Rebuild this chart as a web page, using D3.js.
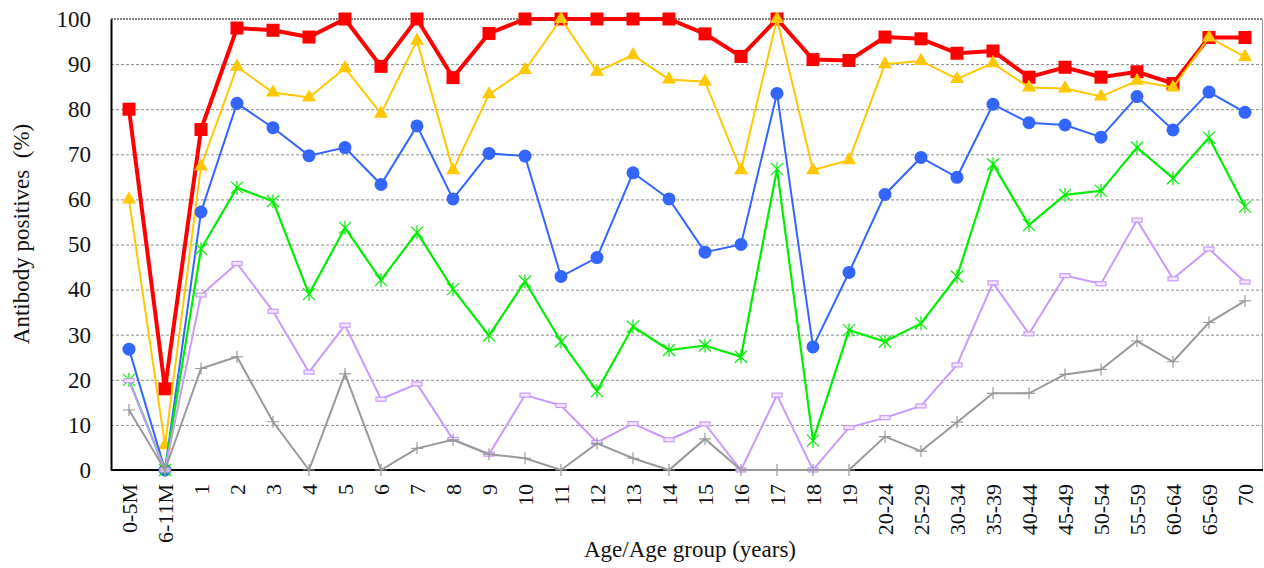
<!DOCTYPE html>
<html>
<head>
<meta charset="utf-8">
<script src="https://cdnjs.cloudflare.com/ajax/libs/d3/7.8.5/d3.min.js"></script>
<style>
  body { margin: 0; background: #fff; }
  svg text { font-family: 'Liberation Serif', 'DejaVu Serif', serif; }
</style>
</head>
<body>
<svg width="1264" height="568"></svg>
<script>
var svg = d3.select('svg');

// categories along x
var ages = ['0-5M', '6-11M', '1', '2', '3', '4', '5', '6', '7', '8', '9', '10',
    '11', '12', '13', '14', '15', '16', '17', '18', '19', '20-24', '25-29',
    '30-34', '35-39', '40-44', '45-49', '50-54', '55-59', '60-64', '65-69', '70'];

var yTicks = [0, 10, 20, 30, 40, 50, 60, 70, 80, 90, 100];

// series values (%)
var red = [80, 18, 75.5, 98, 97.5, 96, 100, 89.5, 100, 87, 96.8, 100,
    100, 100, 100, 100, 96.7, 91.7, 100, 91, 90.8, 96, 95.6,
    92.4, 92.9, 87.1, 89.3, 87.1, 88.3, 85.7, 95.9, 95.9];
var yellow = [60, 5.5, 67.3, 89.4, 83.7, 82.6, 89.1, 79, 95.2, 66.5, 83.3, 88.7,
    100, 88.3, 92, 86.6, 86.1, 66.5, 100, 66.5, 68.7, 90, 90.7,
    86.7, 90.2, 84.8, 84.6, 82.8, 86.3, 84.8, 95.9, 91.6];
var blue = [26.8, 0, 57.2, 81.3, 75.9, 69.7, 71.5, 63.3, 76.3, 60.1, 70.2, 69.6,
    42.9, 47.1, 65.9, 60.1, 48.3, 50, 83.5, 27.3, 43.8, 61.1, 69.3,
    64.9, 81.1, 77, 76.5, 73.8, 82.8, 75.4, 83.8, 79.3];
var green = [20, 0, 49, 62.6, 59.6, 39, 53.7, 42.1, 52.7, 40.1, 29.8, 41.8,
    28.5, 17.5, 31.8, 26.6, 27.6, 25.1, 66.7, 6.5, 31, 28.5, 32.5,
    42.9, 67.8, 54.3, 61, 61.9, 71.5, 64.7, 73.7, 58.4];
var purple = [19.8, 0, 38.8, 45.8, 35.2, 21.7, 32.1, 15.7, 19.1, 6.8, 3.5, 16.6,
    14.3, 6.1, 10.3, 6.7, 10.2, 0, 16.6, 0, 9.4, 11.6, 14.2,
    23.3, 41.5, 30.2, 43.1, 41.3, 55.4, 42.4, 49, 41.7];
var gray = [13.3, 0, 22.5, 25.1, 10.7, 0, 21.3, 0, 4.8, 6.7, 3.5, 2.6,
    0, 5.9, 2.6, 0, 6.9, 0, 0, 0, 0, 7.4, 4.2,
    10.6, 17, 17, 21.2, 22.3, 28.6, 24, 32.7, 37.5];

var pLeft = 111, pRight = 1263, pTop = 19, pBottom = 470;
var serif = "'Liberation Serif', 'DejaVu Serif', serif";

var x = d3.scalePoint().domain(ages).range([pLeft, pRight]).padding(0.5);
var y = d3.scaleLinear().domain([0, 100]).range([pBottom, pTop]);

// grid lines
svg.append('g')
    .selectAll('line')
    .data(yTicks.filter(function(d){ return d > 0 && d < 100; }))
    .enter()
    .append('line')
    .attr('x1', pLeft).attr('x2', pRight)
    .attr('y1', function(d){ return y(d) + 0.5; })
    .attr('y2', function(d){ return y(d) + 0.5; })
    .attr('stroke', '#8a8a8a')
    .attr('stroke-width', 1)
    .attr('stroke-dasharray', '3,2');

// frame: dotted top, thin right, solid left/bottom
svg.append('line').attr('x1', pLeft).attr('x2', pRight).attr('y1', y(100)).attr('y2', y(100))
    .attr('stroke', '#555').attr('stroke-width', 1.5).attr('stroke-dasharray', '2,1');
svg.append('line').attr('x1', pRight - 0.5).attr('x2', pRight - 0.5).attr('y1', pTop).attr('y2', pBottom)
    .attr('stroke', '#999').attr('stroke-width', 1);

// y axis
var yAxis = svg.append('g')
    .attr('transform', 'translate(' + pLeft + ',0)')
    .call(d3.axisLeft(y).tickValues(yTicks).tickSize(0).tickPadding(20));
yAxis.attr('font-family', null);
yAxis.select('.domain').attr('stroke', '#000').attr('stroke-width', 2);
yAxis.selectAll('text').attr('fill', '#111')
    .style('font-family', serif).style('font-size', '23px');

// x axis
var xAxis = svg.append('g')
    .attr('transform', 'translate(0,' + pBottom + ')')
    .call(d3.axisBottom(x).tickSize(0).tickPadding(0));
xAxis.attr('font-family', null);
xAxis.select('.domain').attr('d', 'M' + pLeft + ',0H' + pRight).attr('stroke', '#000').attr('stroke-width', 2);
xAxis.selectAll('text')
    .attr('fill', '#111')
    .style('font-family', serif).style('font-size', '22px')
    .attr('text-anchor', 'end')
    .attr('dy', '0.35em')
    .attr('transform', 'translate(0,14) rotate(-90)')
    .attr('x', 0).attr('y', 0);

// axis titles
svg.append('text')
    .attr('transform', 'translate(29,234) rotate(-90)')
    .attr('text-anchor', 'middle')
    .attr('fill', '#111')
    .style('font-family', serif).style('font-size', '23px')
    .style('white-space', 'pre')
    .text('Antibody positives  (%)');

svg.append('text')
    .attr('x', 690).attr('y', 557)
    .attr('text-anchor', 'middle')
    .attr('fill', '#111')
    .style('font-family', serif).style('font-size', '23px')
    .text('Age/Age group (years)');

var line = d3.line()
    .x(function(d, i){ return x(ages[i]); })
    .y(function(d){ return y(d); });

function drawSeries(values, color, width) {
    svg.append('path')
        .datum(values)
        .attr('d', line)
        .attr('fill', 'none')
        .attr('stroke', color)
        .attr('stroke-width', width)
        .attr('stroke-linejoin', 'miter');
    return svg.append('g')
        .selectAll('g')
        .data(values)
        .enter()
        .append('g')
        .attr('transform', function(d, i){ return 'translate(' + x(ages[i]) + ',' + y(d) + ')'; });
}

// red squares
drawSeries(red, '#ff0000', 4)
    .append('rect')
    .attr('x', -6.5).attr('y', -6.5).attr('width', 13).attr('height', 13)
    .attr('fill', '#ff0000');

// yellow triangles
drawSeries(yellow, '#ffc800', 2)
    .append('path')
    .attr('d', d3.symbol().type(d3.symbolTriangle).size(85))
    .attr('fill', '#ffc800');

// blue circles
drawSeries(blue, '#3366ff', 2)
    .append('circle')
    .attr('r', 6.5)
    .attr('fill', '#3366ff');

// green asterisks
drawSeries(green, '#00ee00', 2.2)
    .append('path')
    .attr('d', 'M-6,-6L6,6M-6,6L6,-6M0,-7L0,7')
    .attr('stroke', '#00ee00')
    .attr('stroke-width', 1.2)
    .attr('fill', 'none');

// purple boxes
drawSeries(purple, '#cc99ff', 2)
    .append('rect')
    .attr('x', -5).attr('y', -2).attr('width', 10).attr('height', 4)
    .attr('fill', '#f3e6ff')
    .attr('stroke', '#cc99ff')
    .attr('stroke-width', 1.2);

// gray plus
drawSeries(gray, '#999999', 2)
    .append('path')
    .attr('d', 'M-6,0L6,0M0,-6L0,6')
    .attr('stroke', '#999999')
    .attr('stroke-width', 1.2);
</script>
</body>
</html>
